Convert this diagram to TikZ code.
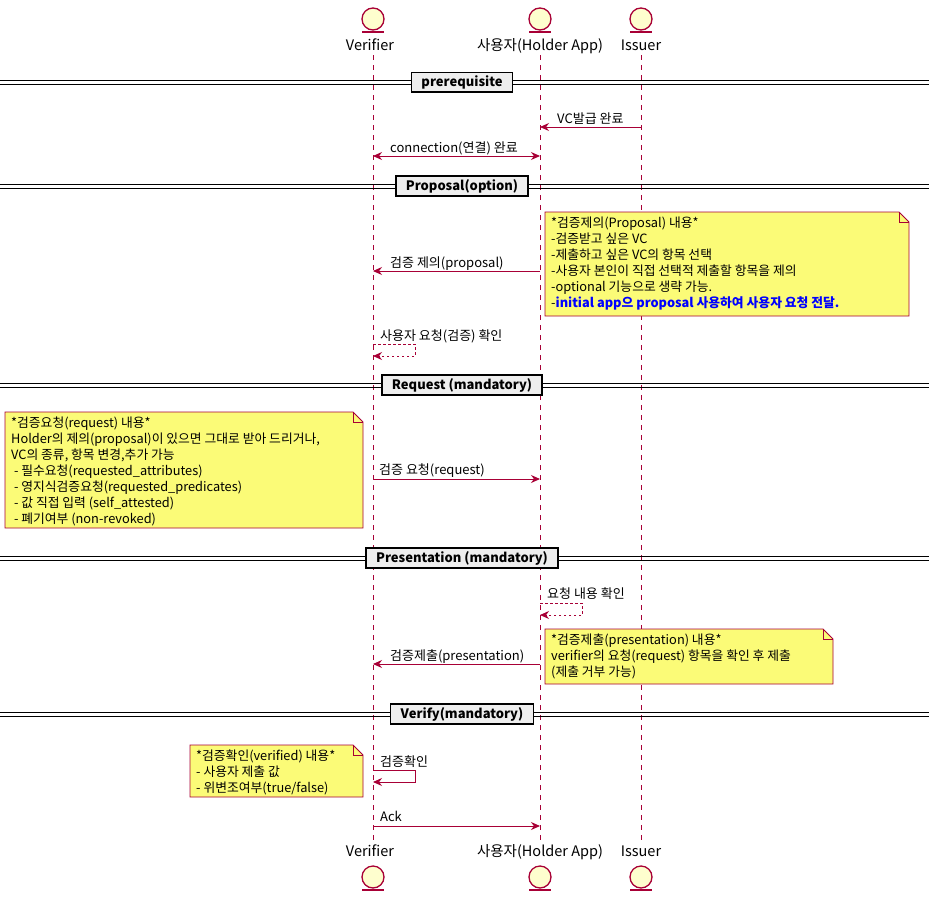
\documentclass[tikz,border=0pt]{standalone}
\usepackage{fontspec}
\setmainfont{Noto Sans CJK KR}
\usetikzlibrary{arrows.meta}
\definecolor{bord}{HTML}{A80036}
\definecolor{pfill}{HTML}{FEFECE}
\definecolor{nfill}{HTML}{FBFB77}
\definecolor{dfill}{HTML}{EEEEEE}
\tikzset{
 life/.style={bord,dashed,dash pattern=on 5pt off 5pt,line width=0.8pt},
 msg/.style={bord,line width=1pt,-{Stealth[length=9pt,width=8pt]}},
 rmsg/.style={msg,dashed,dash pattern=on 2.5pt off 2.5pt},
 lbl/.style={anchor=base west,inner sep=0pt,font=\fontsize{13}{15}\selectfont},
 plbl/.style={anchor=base,inner sep=0pt,font=\fontsize{14.5}{16}\selectfont},
 divbox/.style={draw=black,fill=dfill,line width=1.5pt,inner xsep=10pt,inner ysep=3pt,minimum height=19pt,font=\fontsize{13}{15}\selectfont\bfseries},
 ntext/.style={anchor=north west,inner sep=0pt,align=left,font=\fontsize{12.8}{16}\selectfont},
}
\newcommand{\ent}[3]{% x, y center, name
 \draw[bord,fill=pfill,line width=1.3pt] (#1,#2) circle (11);
 \draw[bord,line width=1.3pt] (#1-11,#2+13) -- (#1+11,#2+13);
}
\newcommand{\divider}[4]{% y, name, text
 \draw[line width=0.9pt] (0,#1-2) -- (929,#1-2);
 \draw[line width=0.9pt] (0,#1+2) -- (929,#1+2);
 \node[divbox] (#2) at (462,#1) {#3};
}
\newcommand{\note}[5]{% x1 y1 x2 y2 name
 \draw[bord,fill=nfill,line width=0.9pt] (#1,#2) -- (#3-10,#2) -- (#3,#2+10) -- (#3,#4) -- (#1,#4) -- cycle;
 \draw[bord,line width=0.9pt] (#3-10,#2) -- (#3-10,#2+10) -- (#3,#2+10);
 \coordinate (#5) at (#1+6,#2+5);
}
\begin{document}
\begin{tikzpicture}[x=1pt,y=-1pt]
\useasboundingbox (0,0) rectangle (929,900);
\fill[white] (0,0) rectangle (929,900);
\coordinate (vt) at (373,55); \coordinate (vb) at (373,840);
\coordinate (ht) at (540,55); \coordinate (hb) at (540,840);
\coordinate (it) at (641,55); \coordinate (ib) at (641,840);
\draw[life] (vt) -- (vb); \draw[life] (ht) -- (hb); \draw[life] (it) -- (ib);
\ent{373}{19}{} \ent{540}{19}{} \ent{641}{19}{}
\ent{373}{877}{} \ent{540}{877}{} \ent{641}{877}{}
\node[plbl] (vl) at (370,50) {Verifier};
\node[plbl] (hl) at (540,50) {사용자(Holder App)};
\node[plbl] (il) at (641,50) {Issuer};
\node[plbl] (vl2) at (370,856) {Verifier};
\node[plbl] (hl2) at (540,856) {사용자(Holder App)};
\node[plbl] (il2) at (641,856) {Issuer};

\divider{82}{d1}{prerequisite}{}
\divider{186}{d2}{Proposal(option)}{}
\divider{385}{d3}{Request (mandatory)}{}
\divider{558}{d4}{Presentation (mandatory)}{}
\divider{714}{d5}{Verify(mandatory)}{}

% messages
\coordinate (i1) at (641,127); \coordinate (h1) at (540,127);
\draw[msg] (i1) -- (h1);
\node[lbl] at (557,123) {VC발급 완료};
\coordinate (v2) at (373,156); \coordinate (h2) at (540,156);
\draw[msg,{Stealth[length=9pt,width=8pt]}-{Stealth[length=9pt,width=8pt]}] (v2) -- (h2);
\node[lbl] at (390,152) {connection(연결) 완료};
\coordinate (h3) at (540,271); \coordinate (v3) at (373,271);
\draw[msg] (h3) -- (v3);
\node[lbl] at (390,267) {검증 제의(proposal)};
\note{545}{212}{909}{316}{n1}
\node[ntext] at (n1) {*검증제의(Proposal) 내용*\\-검증받고 싶은 VC\\-제출하고 싶은 VC의 항목 선택\\-사용자 본인이 직접 선택적 제출할 항목을 제의\\-optional 기능으로 생략 가능.\\-\textcolor{blue}{\bfseries initial app으 proposal 사용하여 사용자 요청 전달.}};
\coordinate (s1a) at (373,344); \coordinate (s1b) at (373,356);
\draw[rmsg] (s1a) -- (415,344) -- (415,356) -- (s1b);
\node[lbl] at (380,340) {사용자 요청(검증) 확인};

\coordinate (v4) at (373,479); \coordinate (h4) at (540,479);
\draw[msg] (v4) -- (h4);
\node[lbl] at (379,474) {검증 요청(request)};
\note{5}{412}{363}{528}{n2}
\node[ntext] at (n2) {*검증요청(request) 내용*\\Holder의 제의(proposal)이 있으면 그대로 받아 드리거나,\\VC의 종류, 항목 변경,추가 가능\\\ - 필수요청(requested\_attributes)\\\ - 영지식검증요청(requested\_predicates)\\\ - 값 직접 입력 (self\_attested)\\\ - 폐기여부 (non-revoked)};

\coordinate (s2a) at (540,603); \coordinate (s2b) at (540,615);
\draw[rmsg] (s2a) -- (582,603) -- (582,615) -- (s2b);
\node[lbl] at (547,598) {요청 내용 확인};
\coordinate (h5) at (540,664); \coordinate (v5) at (373,664);
\draw[msg] (h5) -- (v5);
\node[lbl] at (390,660) {검증제출(presentation)};
\note{545}{629}{833}{684}{n3}
\node[ntext] at (n3) {*검증제출(presentation) 내용*\\verifier의 요청(request) 항목을 확인 후 제출\\(제출 거부 가능)};

\coordinate (s3a) at (373,770); \coordinate (s3b) at (373,782);
\draw[msg] (s3a) -- (415,770) -- (415,782) -- (s3b);
\node[lbl] at (380,766) {검증확인};
\note{190}{745}{363}{797}{n4}
\node[ntext] at (n4) {*검증확인(verified) 내용*\\- 사용자 제출 값\\- 위변조여부(true/false)};

\coordinate (v6) at (373,826); \coordinate (h6) at (540,826);
\draw[msg] (v6) -- (h6);
\node[lbl] at (380,821) {Ack};
\end{tikzpicture}
\end{document}
